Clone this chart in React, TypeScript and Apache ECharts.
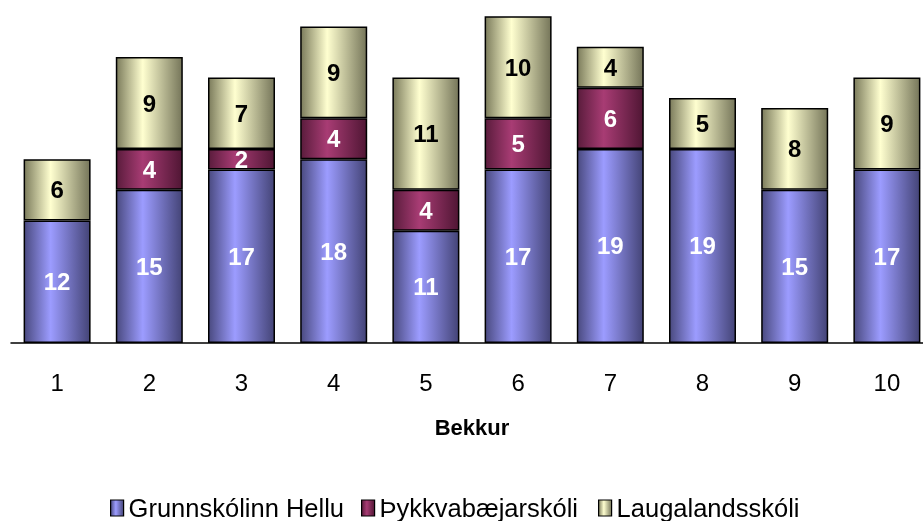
import React, { useEffect, useRef } from "react";
import * as echarts from "echarts";

const categories = ["1", "2", "3", "4", "5", "6", "7", "8", "9", "10"];
const grunnskolinn = [12, 15, 17, 18, 11, 17, 19, 19, 15, 17];
const thykkvabaejar = [null, 4, 2, 4, 4, 5, 6, null, null, null];
const laugalands = [6, 9, 7, 9, 11, 10, 4, 5, 8, 9];
const seriesNames = ["Grunnskólinn Hellu", "Þykkvabæjarskóli", "Laugalandsskóli"];

const grad = (edge: string, mid: string, edge2: string) =>
  new echarts.graphic.LinearGradient(0, 0, 1, 0, [
    { offset: 0, color: edge },
    { offset: 0.4, color: mid },
    { offset: 1, color: edge2 },
  ]);

export default function App() {
  const ref = useRef<HTMLDivElement>(null);
  useEffect(() => {
    const chart = echarts.init(ref.current!, null, { renderer: "svg" });
    const font = "'Liberation Sans', Arial, sans-serif";
    const label = (color: string) => ({
      show: true,
      position: "inside" as const,
      color,
      fontFamily: font,
      fontWeight: "bold" as const,
      fontSize: 24,
    });
    const mk = (name: string, data: any[], fill: any, lblColor: string) => ({
      name,
      type: "bar" as const,
      stack: "all",
      data,
      barWidth: 67,
      itemStyle: { color: fill, borderColor: "#000", borderWidth: 1.5 },
      label: label(lblColor),
    });
    const legendLefts = [110, 361, 598];
    const legends = seriesNames.map((n, i) => ({
      top: 495,
      left: legendLefts[i],
      padding: 0,
      icon: "rect",
      itemWidth: 13,
      itemHeight: 16,
      itemStyle: { borderColor: "#000", borderWidth: 1.2 },
      textStyle: { color: "#000", fontFamily: font, fontSize: 25.5 },
      data: [n],
    }));
    chart.setOption({
      animation: false,
      grid: { left: 11, top: 6, width: 922, height: 337 },
      xAxis: {
        type: "category",
        data: categories,
        axisLine: { lineStyle: { color: "#000", width: 1.5 } },
        axisTick: { show: false },
        axisLabel: { color: "#000", fontFamily: font, fontSize: 24, margin: 27 },
        name: "Bekkur",
        nameLocation: "middle",
        nameGap: 73,
        nameTextStyle: { color: "#000", fontFamily: font, fontSize: 22, fontWeight: "bold" },
      },
      yAxis: { type: "value", min: 0, max: 33, show: false, splitLine: { show: false } },
      legend: legends,
      series: [
        mk(seriesNames[0], grunnskolinn, grad("#4a4a80", "#9c9cff", "#444477"), "#fff"),
        mk(seriesNames[1], thykkvabaejar, grad("#5a1c3c", "#a83c74", "#501634"), "#fff"),
        mk(seriesNames[2], laugalands, grad("#7c7c5c", "#ffffd0", "#76765a"), "#000"),
      ],
    });
    return () => chart.dispose();
  }, []);
  return (
    <div style={{ position: "fixed", left: 0, top: 0, width: 923, height: 521, overflow: "hidden" }}>
      <div ref={ref} style={{ width: 945, height: 521 }} />
    </div>
  );
}
